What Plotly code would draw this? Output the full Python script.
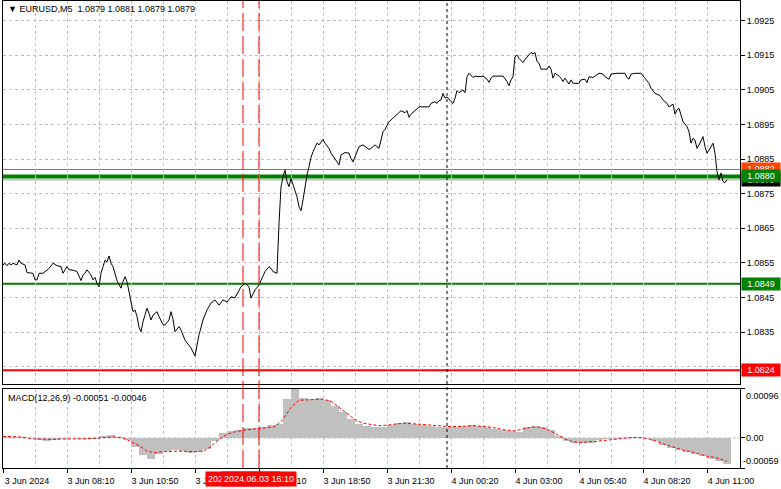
import plotly.graph_objects as go

# ---------------- data (M5 bars counted from 3 Jun 2024 05:30) ----------------
price_bar = [0, 1, 2, 3, 4, 5, 7, 8, 9, 11, 12, 15, 16, 17, 18, 20, 23, 25, 27, 29, 30, 32, 33, 34, 36, 37,
             39, 40, 41, 42, 44, 45, 46, 47, 48, 49, 50, 51, 52, 53, 54, 55, 57, 58, 59, 60, 61, 62, 63, 64,
             65, 66, 67, 68, 69, 70, 72, 73, 74, 75, 77, 78, 80, 81, 83, 84, 85, 86, 88, 89, 91, 92, 94, 96,
             97, 98, 100, 102, 104, 106, 108, 110, 112, 114, 116, 118, 119, 121, 123, 124, 126, 128, 129,
             131, 133, 134, 135, 137, 138, 139, 140, 141, 142, 143, 144, 145, 146, 147, 148, 149, 150, 151,
             152, 153, 154, 155, 156, 157, 158, 160, 161, 163, 164, 166, 167, 168, 169, 171, 173, 174, 175,
             177, 178, 180, 181, 183, 184, 186, 188, 189, 190, 191, 193, 194, 196, 198, 199, 201, 202, 203,
             204, 206, 208, 210, 213, 214, 216, 217, 218, 219, 220, 221, 222, 224, 225, 226, 227, 228, 230,
             231, 232, 233, 235, 236, 238, 240, 242, 243, 244, 245, 247, 248, 250, 252, 253, 254, 255, 256,
             257, 258, 260, 261, 263, 264, 265, 266, 267, 268, 269, 271, 272, 273, 274, 275, 276, 278, 279,
             280, 281, 283, 284, 285, 287, 288, 289, 291, 292, 293, 295, 296, 298, 300, 301, 303, 304, 307,
             310, 311, 312, 313, 314, 316, 319, 321, 323, 324, 326, 328, 329, 330, 332, 333, 334, 335, 336,
             337, 338, 339, 340, 342, 343, 344, 345, 346, 347, 348, 350, 351, 352, 353, 354, 355, 356, 357,
             358, 359, 360, 361, 362]
price_close = [1.08544, 1.08549, 1.08542, 1.08549, 1.08544, 1.08549, 1.08544, 1.08558, 1.08549, 1.08544,
               1.08522, 1.08520, 1.08501, 1.08501, 1.08520, 1.08520, 1.08534, 1.08549, 1.08542, 1.08539,
               1.08520, 1.08539, 1.08530, 1.08530, 1.08527, 1.08525, 1.08499, 1.08515, 1.08520, 1.08530,
               1.08515, 1.08501, 1.08508, 1.08491, 1.08481, 1.08520, 1.08539, 1.08558, 1.08553, 1.08570,
               1.08549, 1.08539, 1.08499, 1.08486, 1.08477, 1.08496, 1.08510, 1.08496, 1.08467, 1.08443,
               1.08409, 1.08414, 1.08395, 1.08364, 1.08351, 1.08380, 1.08419, 1.08404, 1.08385, 1.08399,
               1.08409, 1.08395, 1.08371, 1.08371, 1.08385, 1.08409, 1.08387, 1.08351, 1.08366, 1.08356,
               1.08327, 1.08319, 1.08304, 1.08281, 1.08313, 1.08342, 1.08385, 1.08414, 1.08434, 1.08443,
               1.08428, 1.08443, 1.08437, 1.08452, 1.08449, 1.08472, 1.08481, 1.08491, 1.08481, 1.08448,
               1.08472, 1.08486, 1.08501, 1.08525, 1.08539, 1.08534, 1.08525, 1.08520, 1.08664, 1.08770,
               1.08799, 1.08818, 1.08785, 1.08770, 1.08794, 1.08775, 1.08756, 1.08741, 1.08712, 1.08701,
               1.08732, 1.08770, 1.08804, 1.08828, 1.08855, 1.08871, 1.08886, 1.08896, 1.08891, 1.08907,
               1.08896, 1.08881, 1.08867, 1.08852, 1.08842, 1.08833, 1.08862, 1.08869, 1.08867, 1.08852,
               1.08842, 1.08871, 1.08886, 1.08891, 1.08886, 1.08878, 1.08881, 1.08891, 1.08881, 1.08905,
               1.08929, 1.08936, 1.08958, 1.08963, 1.08975, 1.08984, 1.08990, 1.08984, 1.08990, 1.08971,
               1.08980, 1.08990, 1.09001, 1.09001, 1.09001, 1.09011, 1.09016, 1.09011, 1.09019, 1.09021,
               1.09040, 1.09026, 1.09030, 1.09016, 1.09011, 1.09026, 1.09048, 1.09042, 1.09050, 1.09042,
               1.09088, 1.09098, 1.09086, 1.09090, 1.09088, 1.09090, 1.09081, 1.09072, 1.09084, 1.09090,
               1.09090, 1.09090, 1.09090, 1.09074, 1.09062, 1.09079, 1.09088, 1.09146, 1.09151, 1.09141,
               1.09129, 1.09138, 1.09151, 1.09158, 1.09154, 1.09158, 1.09132, 1.09127, 1.09110, 1.09110,
               1.09110, 1.09119, 1.09110, 1.09084, 1.09098, 1.09090, 1.09084, 1.09074, 1.09084, 1.09067,
               1.09079, 1.09069, 1.09069, 1.09069, 1.09079, 1.09081, 1.09071, 1.09088, 1.09086, 1.09090,
               1.09098, 1.09096, 1.09088, 1.09081, 1.09096, 1.09098, 1.09098, 1.09098, 1.09086, 1.09081,
               1.09096, 1.09098, 1.09098, 1.09084, 1.09069, 1.09055, 1.09040, 1.09035, 1.09030, 1.09021,
               1.09011, 1.09001, 1.09006, 1.09009, 1.08980, 1.08992, 1.08997, 1.08978, 1.08958, 1.08944,
               1.08929, 1.08896, 1.08910, 1.08905, 1.08881, 1.08891, 1.08915, 1.08886, 1.08867, 1.08876,
               1.08886, 1.08896, 1.08867, 1.08814, 1.08790, 1.08810, 1.08785, 1.08782, 1.08790]

# MACD histogram, one value every 4 bars
macd_bar = list(range(0, 364, 4))
macd_hist = [0.00003, 0.00002, 0.00001, -0.00001, -0.00004, -0.00007, -0.00005, -0.00002, -0.00001, -0.00002,
             -0.00003, -0.00002, 0.00003, 0.00005, 0.00002, -0.00004, -0.00017, -0.00034, -0.00041, -0.00031,
             -0.00026, -0.00024, -0.00026, -0.00029, -0.00027, -0.00021, -0.00007, 0.00010, 0.00014, 0.00015,
             0.00019, 0.00019, 0.00021, 0.00026, 0.00027, 0.00077, 0.00096, 0.00079, 0.00077, 0.00079,
             0.00075, 0.00062, 0.00050, 0.00038, 0.00027, 0.00024, 0.00022, 0.00022, 0.00026, 0.00030,
             0.00031, 0.00028, 0.00026, 0.00023, 0.00021, 0.00021, 0.00021, 0.00024, 0.00026, 0.00024,
             0.00021, 0.00017, 0.00015, 0.00013, 0.00012, 0.00022, 0.00024, 0.00021, 0.00015, 0.00004,
             -0.00007, -0.00010, -0.00010, -0.00009, -0.00005, -0.00003, -0.00002, 0.00000, 0.00002, 0.00002,
             -0.00001, -0.00007, -0.00014, -0.00019, -0.00024, -0.00027, -0.00031, -0.00036, -0.00041,
             -0.00045, -0.00051]
signal_bar = [0, 8, 16, 24, 32, 40, 48, 56, 60, 64, 68, 72, 76, 80, 88, 96, 100, 104, 108, 112, 116, 120, 128,
              136, 140, 144, 148, 152, 160, 164, 168, 172, 176, 180, 184, 188, 192, 196, 200, 208, 216, 224,
              232, 236, 244, 252, 256, 260, 264, 268, 272, 276, 280, 284, 288, 296, 304, 312, 316, 320, 324,
              328, 332, 336, 340, 344, 348, 352, 356, 362]
signal_val = [0.00003, 0.00002, -0.00002, -0.00003, -0.00002, -0.00002, 0.00000, 0.00002, 0.00000, -0.00007,
              -0.00015, -0.00026, -0.00029, -0.00027, -0.00026, -0.00027, -0.00026, -0.00017, -0.00003,
              0.00007, 0.00012, 0.00015, 0.00019, 0.00022, 0.00036, 0.00060, 0.00074, 0.00075, 0.00076,
              0.00072, 0.00060, 0.00048, 0.00036, 0.00029, 0.00026, 0.00024, 0.00025, 0.00027, 0.00029,
              0.00027, 0.00024, 0.00022, 0.00023, 0.00024, 0.00021, 0.00015, 0.00014, 0.00017, 0.00021,
              0.00021, 0.00017, 0.00009, 0.00000, -0.00007, -0.00009, -0.00007, -0.00003, 0.00000, 0.00001,
              0.00000, -0.00003, -0.00009, -0.00014, -0.00019, -0.00024, -0.00027, -0.00032, -0.00036,
              -0.00038, -0.00046]

time_tick_bar = [0, 32, 64, 96, 128, 160, 192, 224, 256, 288, 320, 352]
time_tick_text = ["3 Jun 2024", "3 Jun 08:10", "3 Jun 10:50", "3 Jun 13:30", "3 Jun 16:10", "3 Jun 18:50",
                  "3 Jun 21:30", "4 Jun 00:20", "4 Jun 03:00", "4 Jun 05:40", "4 Jun 08:20", "4 Jun 11:00"]
time_grid_bar = [16, 48, 80, 112, 144, 176, 208, 240, 272, 304, 336, 368]
price_ticks = [1.0825, 1.0835, 1.0845, 1.0855, 1.0865, 1.0875, 1.0885, 1.0895, 1.0905, 1.0915, 1.0925]
macd_ticks = [0.00096, 0.0, -0.00059]
macd_tick_text = ["0.00096", "0.00", "-0.00059"]

vline_bars = [120, 128]
vline_text = ["2024.06.03 15:30", "2024.06.03 16:10"]
day_sep_bar = 222
level_resist = 1.0882
level_main = 1.0880
level_bid = 1.0879
level_support = 1.0849
level_low = 1.0824

FONT = "Liberation Sans"
GRID = "#C0C0C0"

fig = go.Figure()
fig.add_trace(go.Scatter(x=price_bar, y=price_close, mode="lines",
                         line=dict(color="black", width=1), xaxis="x", yaxis="y", hoverinfo="skip"))
fig.add_trace(go.Bar(x=macd_bar, y=macd_hist, width=4, offset=0,
                     marker=dict(color="#C0C0C0", line=dict(width=0)), xaxis="x2", yaxis="y2"))
fig.add_trace(go.Scatter(x=signal_bar, y=signal_val, mode="lines",
                         line=dict(color="#FF0000", width=1, dash="3px,2px"), xaxis="x2", yaxis="y2"))

shapes = []
def hline(val, color, width, yref="y", dash="solid"):
    shapes.append(dict(type="line", xref="x domain", yref=yref, x0=0, x1=1, y0=val, y1=val,
                       line=dict(color=color, width=width, dash=dash), layer="below"))

hline(level_resist, "#FF4500", 1)
hline(level_bid, "#C0C0C0", 1.5)
hline(level_main, "#008000", 4)
hline(level_support, "#008000", 2)
hline(level_low, "#FF0000", 2)
shapes.append(dict(type="line", xref="x2 domain", yref="y2", x0=0, x1=1, y0=0, y1=0,
                   line=dict(color="#C0C0C0", width=1, dash="3px,2px"), layer="below"))
for b in vline_bars:
    shapes.append(dict(type="line", xref="x", yref="paper", x0=b, x1=b, y0=0, y1=1,
                       line=dict(color="#FF0000", width=1, dash="18px,5px")))
shapes.append(dict(type="line", xref="x", yref="paper", x0=day_sep_bar, x1=day_sep_bar, y0=0, y1=1,
                   line=dict(color="black", width=1, dash="3px,3px")))

ann = []
def level_box(val, color, text):
    ann.append(dict(x=1, xref="paper", y=val, yref="y", xanchor="left", yanchor="middle", xshift=1,
                    text=text, showarrow=False, bgcolor=color, borderpad=1, width=36,
                    font=dict(family=FONT, size=9, color="white")))

level_box(level_resist, "#FF4500", "%.4f" % level_resist)
level_box(level_bid, "#000000", "%.4f" % level_bid)
level_box(level_main, "#008000", "%.4f" % level_main)
level_box(level_support, "#008000", "%.4f" % level_support)
level_box(level_low, "#FF0000", "%.4f" % level_low)

for b, t in zip(vline_bars, vline_text):
    ann.append(dict(x=b, xref="x2", y=0, yref="paper", xanchor="center", yanchor="top", yshift=-3,
                    text=t, showarrow=False, bgcolor="#FF0000", borderpad=2,
                    font=dict(family=FONT, size=9, color="white")))

ann.append(dict(x=0, xref="paper", y=1, yref="paper", xanchor="left", yanchor="top", xshift=3, yshift=-1,
                text="▼ EURUSD,M5\u00a0\u00a01.0879 1.0881 1.0879 1.0879", showarrow=False,
                font=dict(family=FONT, size=9, color="black")))
ann.append(dict(x=0, xref="paper", y=1, yref="y2 domain", xanchor="left", yanchor="top", xshift=3, yshift=-2,
                text="MACD(12,26,9) -0.00051 -0.00046", showarrow=False,
                font=dict(family=FONT, size=9, color="black")))
for v, t, ya in zip(macd_ticks, macd_tick_text, ["top", "middle", "bottom"]):
    ann.append(dict(x=1, xref="paper", y=v, yref="y2", xanchor="left", yanchor=ya, xshift=1 if t.startswith("-") else 4,
                    text=t, showarrow=False, font=dict(family=FONT, size=9, color="black")))

main_bottom = 0.1799
macd_top = 0.1692

fig.update_layout(
    width=781, height=489,
    margin=dict(l=3, r=41, t=1, b=21),
    paper_bgcolor="white", plot_bgcolor="white",
    showlegend=False, bargap=0,
    font=dict(family=FONT, size=9, color="black"),
    shapes=shapes, annotations=ann,
    xaxis=dict(domain=[0, 1], anchor="y", range=[0, 368.5], tickmode="array", tickvals=time_tick_bar,
               showticklabels=False, ticks="", showgrid=True, gridcolor=GRID, griddash="3px,3px", gridwidth=1,
               minor=dict(tickmode="array", tickvals=time_grid_bar, showgrid=True, gridcolor=GRID,
                          griddash="3px,3px", ticks=""),
               showline=True, mirror=True, linecolor="black", linewidth=1, zeroline=False),
    yaxis=dict(domain=[main_bottom, 1], anchor="x", side="right", range=[1.08200, 1.09307],
               tickmode="array", tickvals=price_ticks, ticktext=["%.4f" % v for v in price_ticks],
               ticks="outside", ticklen=4, tickcolor="black", showgrid=True, gridcolor=GRID,
               griddash="3px,3px", showline=True, mirror=True, linecolor="black", linewidth=1,
               zeroline=False, tickfont=dict(family=FONT, size=9, color="black")),
    xaxis2=dict(domain=[0, 1], anchor="y2", matches="x", range=[0, 368.5], tickmode="array",
                tickvals=time_tick_bar, ticktext=time_tick_text, ticks="outside", ticklen=4, tickcolor="black",
                ticklabelshift=24, tickangle=0,
                showgrid=True, gridcolor=GRID, griddash="3px,3px",
                minor=dict(tickmode="array", tickvals=time_grid_bar, showgrid=True, gridcolor=GRID,
                           griddash="3px,3px", ticks=""),
                showline=True, mirror=True, linecolor="black", linewidth=1, zeroline=False,
                tickfont=dict(family=FONT, size=9, color="black")),
    yaxis2=dict(domain=[0, macd_top], anchor="x2", side="right", range=[-0.00059, 0.00096],
                tickmode="array", tickvals=macd_ticks, showticklabels=False, ticks="outside", ticklen=4,
                tickcolor="black", showgrid=False, showline=True, mirror=True, linecolor="black",
                linewidth=1, zeroline=False),
)

fig.write_html("out.html", config={"displayModeBar": False, "staticPlot": True},
               post_script="document.body.style.margin='0px';document.body.style.overflow='hidden';")
